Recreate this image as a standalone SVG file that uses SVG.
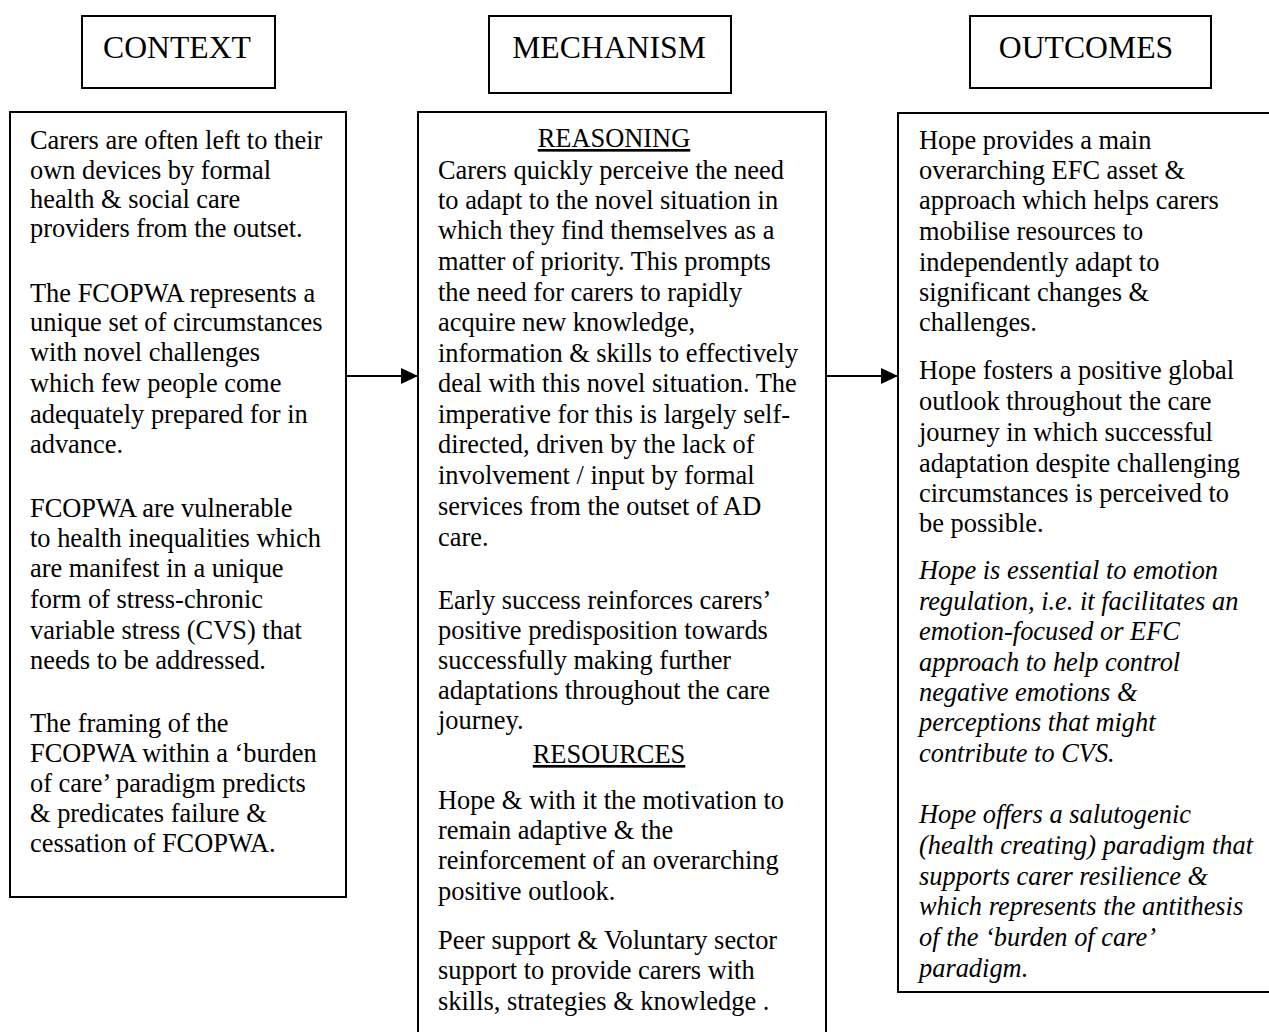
<svg xmlns="http://www.w3.org/2000/svg" width="1269" height="1032" viewBox="0 0 1269 1032">
<style>
.box{fill:#fff;stroke:#000;stroke-width:2}
.hd{font-family:"Liberation Serif","Times New Roman",serif;font-size:31.7px;fill:#000;text-anchor:middle}
.t{font-family:"Liberation Serif","Times New Roman",serif;font-size:26.4px;fill:#000}
.i{font-style:italic}
.u{text-anchor:middle;text-decoration:underline}
.ln{stroke:#000;stroke-width:2;fill:none}
</style>
<defs>
<marker id="ah" markerWidth="17" markerHeight="16" refX="17" refY="8" orient="auto" markerUnits="userSpaceOnUse">
<path d="M0,0 L17,8 L0,16 Z" fill="#000"/>
</marker>
</defs>
<rect width="1269" height="1032" fill="#fff"/>
<g id="head-context">
<rect class="box" x="82" y="16" width="193" height="72"/>
<text class="hd" x="177" y="58">CONTEXT</text>
</g>
<g id="head-mechanism">
<rect class="box" x="489" y="16" width="242" height="77"/>
<text class="hd" x="609" y="58">MECHANISM</text>
</g>
<g id="head-outcomes">
<rect class="box" x="970" y="16" width="241" height="72"/>
<text class="hd" x="1086" y="58">OUTCOMES</text>
</g>
<g id="context">
<rect class="box" x="10" y="112" width="336" height="785"/>
<text class="t" x="30">
<tspan x="30" y="149">Carers are often left to their</tspan>
<tspan x="30" y="179">own devices by formal</tspan>
<tspan x="30" y="208">health &amp; social care</tspan>
<tspan x="30" y="237">providers from the outset.</tspan>
<tspan x="30" y="302">The FCOPWA represents a</tspan>
<tspan x="30" y="331">unique set of circumstances</tspan>
<tspan x="30" y="361">with novel challenges</tspan>
<tspan x="30" y="392">which few people come</tspan>
<tspan x="30" y="423">adequately prepared for in</tspan>
<tspan x="30" y="453">advance.</tspan>
<tspan x="30" y="517">FCOPWA are vulnerable</tspan>
<tspan x="30" y="547">to health inequalities which</tspan>
<tspan x="30" y="577">are manifest in a unique</tspan>
<tspan x="30" y="608">form of stress-chronic</tspan>
<tspan x="30" y="639">variable stress (CVS) that</tspan>
<tspan x="30" y="669">needs to be addressed.</tspan>
<tspan x="30" y="732">The framing of the</tspan>
<tspan x="30" y="762">FCOPWA within a ‘burden</tspan>
<tspan x="30" y="792">of care’ paradigm predicts</tspan>
<tspan x="30" y="822">&amp; predicates failure &amp;</tspan>
<tspan x="30" y="852">cessation of FCOPWA.</tspan>
</text>
</g>
<g id="mechanism">
<rect class="box" x="418" y="112" width="408" height="935"/>
<text class="t u" x="614" y="147">REASONING</text>
<text class="t">
<tspan x="438" y="179">Carers quickly perceive the need</tspan>
<tspan x="438" y="209">to adapt to the novel situation in</tspan>
<tspan x="438" y="239">which they find themselves as a</tspan>
<tspan x="438" y="270">matter of priority. This prompts</tspan>
<tspan x="438" y="301">the need for carers to rapidly</tspan>
<tspan x="438" y="331">acquire new knowledge,</tspan>
<tspan x="438" y="362">information &amp; skills to effectively</tspan>
<tspan x="438" y="392">deal with this novel situation. The</tspan>
<tspan x="438" y="423">imperative for this is largely self-</tspan>
<tspan x="438" y="453">directed, driven by the lack of</tspan>
<tspan x="438" y="484">involvement / input by formal</tspan>
<tspan x="438" y="515">services from the outset of AD</tspan>
<tspan x="438" y="546">care.</tspan>
<tspan x="438" y="609">Early success reinforces carers’</tspan>
<tspan x="438" y="639">positive predisposition towards</tspan>
<tspan x="438" y="669">successfully making further</tspan>
<tspan x="438" y="699">adaptations throughout the care</tspan>
<tspan x="438" y="729">journey.</tspan>
</text>
<text class="t u" x="609" y="763">RESOURCES</text>
<text class="t">
<tspan x="438" y="809">Hope &amp; with it the motivation to</tspan>
<tspan x="438" y="839">remain adaptive &amp; the</tspan>
<tspan x="438" y="869">reinforcement of an overarching</tspan>
<tspan x="438" y="900">positive outlook.</tspan>
<tspan x="438" y="949">Peer support &amp; Voluntary sector</tspan>
<tspan x="438" y="979">support to provide carers with</tspan>
<tspan x="438" y="1010">skills, strategies &amp; knowledge .</tspan>
</text>
</g>
<g id="outcomes">
<rect class="box" x="898" y="113" width="380" height="879"/>
<text class="t">
<tspan x="919" y="149">Hope provides a main</tspan>
<tspan x="919" y="179">overarching EFC asset &amp;</tspan>
<tspan x="919" y="209">approach which helps carers</tspan>
<tspan x="919" y="240">mobilise resources to</tspan>
<tspan x="919" y="271">independently adapt to</tspan>
<tspan x="919" y="301">significant changes &amp;</tspan>
<tspan x="919" y="331">challenges.</tspan>
<tspan x="919" y="379">Hope fosters a positive global</tspan>
<tspan x="919" y="410">outlook throughout the care</tspan>
<tspan x="919" y="441">journey in which successful</tspan>
<tspan x="919" y="472">adaptation despite challenging</tspan>
<tspan x="919" y="502">circumstances is perceived to</tspan>
<tspan x="919" y="532">be possible.</tspan>
</text>
<text class="t i">
<tspan x="919" y="579">Hope is essential to emotion</tspan>
<tspan x="919" y="610">regulation, i.e. it facilitates an</tspan>
<tspan x="919" y="640">emotion-focused or EFC</tspan>
<tspan x="919" y="671">approach to help control</tspan>
<tspan x="919" y="701">negative emotions &amp;</tspan>
<tspan x="919" y="731">perceptions that might</tspan>
<tspan x="919" y="762">contribute to CVS.</tspan>
<tspan x="919" y="823">Hope offers a salutogenic</tspan>
<tspan x="919" y="854">(health creating) paradigm that</tspan>
<tspan x="919" y="885">supports carer resilience &amp;</tspan>
<tspan x="919" y="915">which represents the antithesis</tspan>
<tspan x="919" y="946">of the ‘burden of care’</tspan>
<tspan x="919" y="977">paradigm.</tspan>
</text>
</g>
<g id="connectors">
<line class="ln" x1="346" y1="376" x2="418" y2="376" marker-end="url(#ah)"/>
<line class="ln" x1="826" y1="376" x2="898" y2="376" marker-end="url(#ah)"/>
</g>
</svg>
